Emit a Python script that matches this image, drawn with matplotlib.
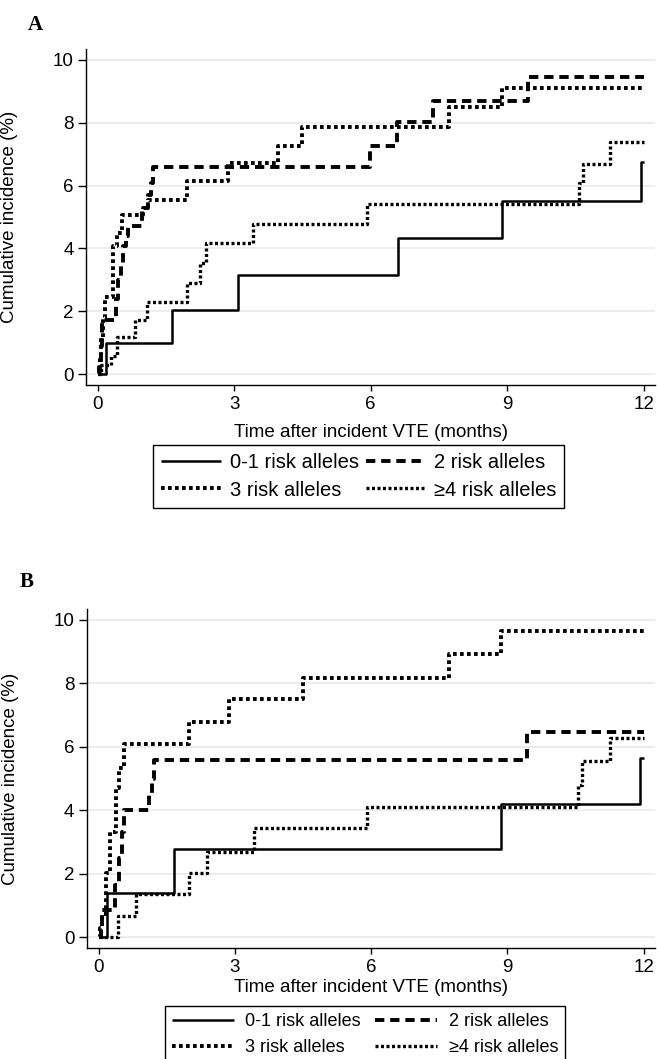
"""
Cumulative incidence of recurrent VTE by number of risk alleles,
panels A and B, redrawn as step curves.
"""

import matplotlib
matplotlib.use("Agg")
import matplotlib.pyplot as plt

# ---- data (months, cumulative incidence %) ----
A_T_01 = [0, 0.17, 1.63, 3.08, 6.61, 8.88, 11.94]
A_V_01 = [0, 0.99, 2.03, 3.16, 4.32, 5.50, 6.74]

A_T_2 = [0, 0.03, 0.06, 0.09, 0.40, 0.45, 0.50, 0.55, 0.62, 0.67, 0.97, 1.11, 1.17, 1.22, 5.98, 6.57, 7.38, 9.46]
A_V_2 = [0, 0.40, 0.90, 1.73, 2.40, 3.00, 3.50, 4.07, 4.40, 4.72, 5.29, 5.70, 6.08, 6.58, 7.27, 8.01, 8.70, 9.45]

A_T_3 = [0, 0.04, 0.08, 0.12, 0.16, 0.34, 0.43, 0.53, 1.00, 1.10, 1.96, 2.86, 3.97, 4.48, 7.71, 8.88]
A_V_3 = [0, 0.60, 1.20, 1.80, 2.47, 4.07, 4.50, 5.07, 5.30, 5.55, 6.13, 6.72, 7.27, 7.85, 8.49, 9.09]

A_T_4 = [0, 0.08, 0.30, 0.42, 0.82, 1.08, 1.96, 2.25, 2.38, 3.41, 5.91, 10.58, 10.67, 11.27]
A_V_4 = [0, 0.30, 0.58, 1.17, 1.73, 2.31, 2.90, 3.55, 4.17, 4.78, 5.40, 6.08, 6.70, 7.38]

B_T_01 = [0, 0.18, 1.66, 8.86, 11.92]
B_V_01 = [0, 1.38, 2.77, 4.20, 5.64]

B_T_2 = [0, 0.05, 0.08, 0.35, 0.45, 0.50, 0.56, 1.10, 1.17, 1.22, 9.44]
B_V_2 = [0, 0.40, 0.85, 1.64, 2.50, 3.30, 4.00, 4.50, 5.00, 5.58, 6.48]

B_T_3 = [0, 0.03, 0.08, 0.15, 0.25, 0.38, 0.45, 0.56, 1.98, 2.86, 4.50, 7.71, 8.86]
B_V_3 = [0, 0.30, 0.72, 2.01, 3.32, 4.69, 5.32, 6.09, 6.79, 7.50, 8.18, 8.93, 9.65]

B_T_4 = [0, 0.42, 0.82, 1.99, 2.39, 3.42, 5.91, 10.56, 10.65, 11.26]
B_V_4 = [0, 0.66, 1.35, 2.03, 2.69, 3.43, 4.11, 4.79, 5.55, 6.27]

END_T = 12
LABELS = ["0-1 risk alleles", "2 risk alleles", "3 risk alleles", "\u22654 risk alleles"]
X_TICKS = [0, 3, 6, 9, 12]
Y_TICKS = [0, 2, 4, 6, 8, 10]

W, H = 657, 1059
FS = 13.5

plt.rcParams.update({
    "font.family": ["Liberation Sans", "DejaVu Sans"],
    "font.size": FS,
    "axes.linewidth": 1.0,
})

STYLES = [
    dict(lw=1.8, ls="-"),
    dict(lw=2.8, ls=(0, (2.4, 1.5))),
    dict(lw=2.8, ls=(0, (0.95, 0.85))),
    dict(lw=2.4, ls=(0, (0.9, 0.75))),
]


def px_box(left, top, right, bottom):
    return [left / W, 1 - bottom / H, (right - left) / W, (bottom - top) / H]


def panel(fig, rect, series, xlabel_y, legend_xy, leg):
    ax = fig.add_axes(rect)
    handles = []
    for (t, v), st in zip(series, STYLES):
        tt = list(t) + [END_T]
        vv = list(v) + [v[-1]]
        h, = ax.step(tt, vv, where="post", color="black", lw=st["lw"],
                     linestyle=st["ls"], dash_capstyle="butt", solid_capstyle="butt")
        handles.append(h)

    ax.set_xlim(-0.26, 12.25)
    ax.set_ylim(-0.34, 10.34)
    ax.set_xticks(X_TICKS)
    ax.set_yticks(Y_TICKS)
    ax.spines["top"].set_visible(False)
    ax.spines["right"].set_visible(False)
    ax.tick_params(axis="y", direction="out", length=6, width=1, pad=3)
    ax.tick_params(axis="x", direction="out", length=4, width=1, pad=4)
    ax.yaxis.grid(True, color="#ececec", lw=1.3)
    ax.set_axisbelow(True)

    ax.set_ylabel("Cumulative incidence (%)")
    ax.yaxis.set_label_coords(-0.12, 0.5)
    ax.set_xlabel("Time after incident VTE (months)")
    ax.xaxis.set_label_coords(0.5, xlabel_y)

    # legend fills column-wise, so reorder to read row by row
    order = [0, 2, 1, 3]
    ax.legend([handles[i] for i in order], [LABELS[i] for i in order],
              ncol=2, loc="upper left",
              bbox_to_anchor=(legend_xy[0] / W, 1 - legend_xy[1] / H),
              bbox_transform=fig.transFigure, borderaxespad=0,
              frameon=True, fancybox=False, edgecolor="black", framealpha=1,
              borderpad=0.4, **leg)
    ax.get_legend().get_frame().set_linewidth(1.0)
    return ax


fig = plt.figure(figsize=(W / 100, H / 100), dpi=100, facecolor="white")

series_a = [(A_T_01, A_V_01), (A_T_2, A_V_2), (A_T_3, A_V_3), (A_T_4, A_V_4)]
series_b = [(B_T_01, B_V_01), (B_T_2, B_V_2), (B_T_3, B_V_3), (B_T_4, B_V_4)]

panel(fig, px_box(86, 49, 655, 385), series_a, -0.116, (153, 445),
      dict(fontsize=14.5, handlelength=3.0, handletextpad=0.4,
           columnspacing=0.35, labelspacing=0.42))
panel(fig, px_box(87, 609, 655, 948), series_b, -0.092, (165, 1006),
      dict(fontsize=13, handlelength=3.4, handletextpad=0.65,
           columnspacing=0.8, labelspacing=0.5))

fig.text(35 / W, 1 - 25 / H, "A", family=["Liberation Serif", "DejaVu Serif"],
         fontweight="bold", fontsize=15, ha="center", va="center")
fig.text(27 / W, 1 - 582 / H, "B", family=["Liberation Serif", "DejaVu Serif"],
         fontweight="bold", fontsize=15, ha="center", va="center")

fig.savefig("out.png", dpi=100, facecolor="white")
